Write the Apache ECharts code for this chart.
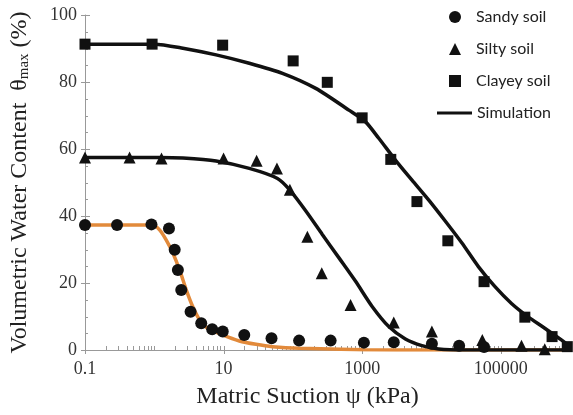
<!DOCTYPE html>
<html>
<head>
<meta charset="utf-8">
<script src="https://cdn.jsdelivr.net/npm/echarts@6/dist/echarts.min.js"></script>
<style>
  html, body { margin: 0; padding: 0; background: #fff; }
  #chart { width: 573px; height: 415px; }
</style>
</head>
<body>
<div id="chart"></div>
<script>
// measured points (matric suction kPa, water content %)
const sandyX = [0.1, 0.29, 0.91, 1.63, 1.97, 2.19, 2.45, 3.34, 4.76, 6.85, 9.73, 19.9, 49.2, 123, 351, 1060, 2860, 10160, 25100, 57500];
const sandyY = [37.3, 37.3, 37.5, 36.3, 29.9, 23.9, 17.9, 11.4, 8.0, 6.2, 5.5, 4.5, 3.5, 2.8, 2.8, 2.2, 2.3, 1.9, 1.3, 0.9];
const siltyX = [0.1, 0.44, 1.27, 10, 30, 58.9, 90.5, 162, 261, 681, 2860, 10160, 54300, 199500, 432000];
const siltyY = [57.5, 57.5, 57.2, 57.2, 56.5, 54.2, 47.8, 33.8, 22.9, 13.4, 8.2, 5.5, 3.0, 1.3, 0.2];
const clayX = [0.1, 0.93, 9.7, 101, 314, 1000, 2590, 6180, 17260, 57500, 223000, 551000, 914000];
const clayY = [91.3, 91.3, 91.0, 86.3, 79.9, 69.3, 56.9, 44.3, 32.6, 20.4, 9.8, 4.0, 1.0];

// simulation curves
const sandyFitX = [0.1, 0.95, 1.2, 1.49, 1.86, 2.32, 2.9, 3.6, 4.5, 5.61, 9.73, 16.9, 29.4, 50.9, 123, 1000, 10000, 1e6];
const sandyFitY = [37.3, 37.3, 35.8, 32.8, 28.9, 23.9, 17.9, 12.9, 9.0, 6.8, 4.5, 2.7, 1.7, 1.0, 0.5, 0.1, 0, 0];
const siltyFitX = [0.1, 1.2, 2.6, 7.8, 23.5, 60, 90, 154, 266, 463, 804, 1393, 2421, 4207, 7295, 12680, 30000, 1e6];
const siltyFitY = [57.5, 57.5, 57.3, 56.4, 54.2, 51.2, 47.8, 41.5, 34.5, 27.5, 20.5, 13.0, 7.0, 3.3, 1.3, 0.3, 0, 0];
const clayFitX = [0.1, 1.0, 2.59, 7.8, 23.5, 70.8, 214, 644, 1119, 1738, 3020, 5240, 9100, 15800, 27400, 47600, 82700, 143000, 249000, 432000, 750000, 1e6];
const clayFitY = [91.3, 91.3, 90.1, 88.1, 85.6, 82.6, 78.1, 71.6, 68.1, 63.2, 56.7, 50.7, 44.8, 38.5, 32.0, 24.9, 18.9, 13.9, 9.9, 6.5, 3.0, 1.0];

const xTickLabels = ['0.1', '10', '1000', '100000'];
const yTickLabels = [0, 20, 40, 60, 80, 100];

const zip = (xs, ys) => xs.map((x, i) => [x, ys[i]]);

// tick marks: every 1..9 x 10^n on x, every 5 on y
const tickData = [];
for (let e = -1; e <= 5; e++) {
  for (let k = 1; k <= 9; k++) {
    const v = +(k * Math.pow(10, e)).toPrecision(6);
    tickData.push([v, 0, xTickLabels.includes(String(v)) ? 1 : 0, 0]);
  }
}
tickData.push([1e6, 0, 0, 0]);
for (let y = 0; y <= 100; y += 5) {
  tickData.push([0.1, y, yTickLabels.includes(y) ? 1 : 0, 1]);
}

const serif = 'Liberation Serif';
const black = '#111';
const orange = '#E28A3B';
const axisGray = '#999';

const chart = echarts.init(document.getElementById('chart'));

const fitLine = (name, xs, ys, color, z) => ({
  name: name,
  type: 'line',
  data: zip(xs, ys),
  smooth: 0.25,
  showSymbol: false,
  lineStyle: { color: color, width: 3.5 },
  itemStyle: { color: color },
  z: z
});

chart.setOption({
  animation: false,
  grid: { left: 85, right: 1, top: 15, bottom: 65 },
  legend: [
    {
      orient: 'vertical',
      left: 444,
      top: 4,
      itemWidth: 12,
      itemHeight: 12,
      itemGap: 16,
      textStyle: { fontFamily: 'Lato', fontSize: 16, color: '#222', lineHeight: 16, padding: [0, 0, 0, 10] },
      data: [
        { name: 'Sandy soil', icon: 'circle' },
        { name: 'Silty soil', icon: 'triangle' },
        { name: 'Clayey soil', icon: 'rect' }
      ]
    },
    {
      orient: 'vertical',
      left: 432,
      top: 100,
      itemWidth: 35,
      itemHeight: 3,
      textStyle: { fontFamily: 'Lato', fontSize: 16, color: '#222', lineHeight: 16 },
      data: [{ name: 'Simulation', icon: 'rect' }]
    }
  ],
  xAxis: {
    type: 'log',
    logBase: 10,
    min: 0.1,
    max: 1e6,
    interval: 2,
    axisLine: { lineStyle: { color: axisGray, width: 1 } },
    axisTick: { show: false },
    minorTick: { show: false },
    splitLine: { show: false },
    axisLabel: {
      fontFamily: serif,
      fontSize: 18,
      color: '#333',
      margin: 10,
      formatter: (v) => {
        const s = String(+(+v).toPrecision(6));
        return xTickLabels.includes(s) ? s : '';
      }
    },
    name: 'Matric Suction ψ (kPa)',
    nameLocation: 'middle',
    nameGap: 35,
    nameTextStyle: { fontFamily: serif, fontSize: 24, color: '#222', padding: [0, 40, 0, 0] }
  },
  yAxis: {
    type: 'value',
    min: 0,
    max: 100,
    interval: 20,
    axisLine: { lineStyle: { color: axisGray, width: 1 } },
    axisTick: { show: false },
    splitLine: { show: false },
    axisLabel: {
      fontFamily: serif,
      fontSize: 18,
      color: '#333',
      margin: 8,
      formatter: (v) => (yTickLabels.includes(v) ? String(v) : '')
    },
    name: '{a|Volumetric Water Content  θ}{b|max}{a| (%)}',
    nameLocation: 'middle',
    nameGap: 53,
    nameTextStyle: {
      rich: {
        a: { fontFamily: serif, fontSize: 24, color: '#222', verticalAlign: 'bottom', lineHeight: 28 },
        b: { fontFamily: serif, fontSize: 15, color: '#222', verticalAlign: 'bottom', lineHeight: 22 }
      }
    }
  },
  series: [
    {
      type: 'custom',
      silent: true,
      clip: false,
      z: 1,
      data: tickData,
      renderItem: (params, api) => {
        const p = api.coord([api.value(0), api.value(1)]);
        const major = api.value(2) === 1;
        const isY = api.value(3) === 1;
        let shape;
        if (!isY) {
          const x = Math.round(p[0]) + 0.5;
          shape = { x1: x, y1: p[1] - 4, x2: x, y2: p[1] + (major ? 4 : 0) };
        } else {
          const y = Math.round(p[1]) + 0.5;
          shape = { x1: p[0] - (major ? 4 : 0), y1: y, x2: p[0] + (major ? 5 : 3), y2: y };
        }
        return { type: 'line', shape: shape, style: { stroke: axisGray, lineWidth: 1 } };
      }
    },
    fitLine('Sandy fit', sandyFitX, sandyFitY, orange, 2),
    fitLine('Simulation', siltyFitX, siltyFitY, black, 3),
    fitLine('Simulation', clayFitX, clayFitY, black, 3),
    {
      name: 'Sandy soil',
      type: 'scatter',
      symbol: 'circle',
      symbolSize: 12,
      data: zip(sandyX, sandyY),
      itemStyle: { color: black, opacity: 1 },
      z: 4
    },
    {
      name: 'Silty soil',
      type: 'scatter',
      symbol: 'triangle',
      symbolSize: 12,
      data: zip(siltyX, siltyY),
      itemStyle: { color: black, opacity: 1 },
      z: 4
    },
    {
      name: 'Clayey soil',
      type: 'scatter',
      symbol: 'rect',
      symbolSize: 11,
      data: zip(clayX, clayY),
      itemStyle: { color: black, opacity: 1 },
      z: 4
    }
  ]
});
</script>
</body>
</html>
